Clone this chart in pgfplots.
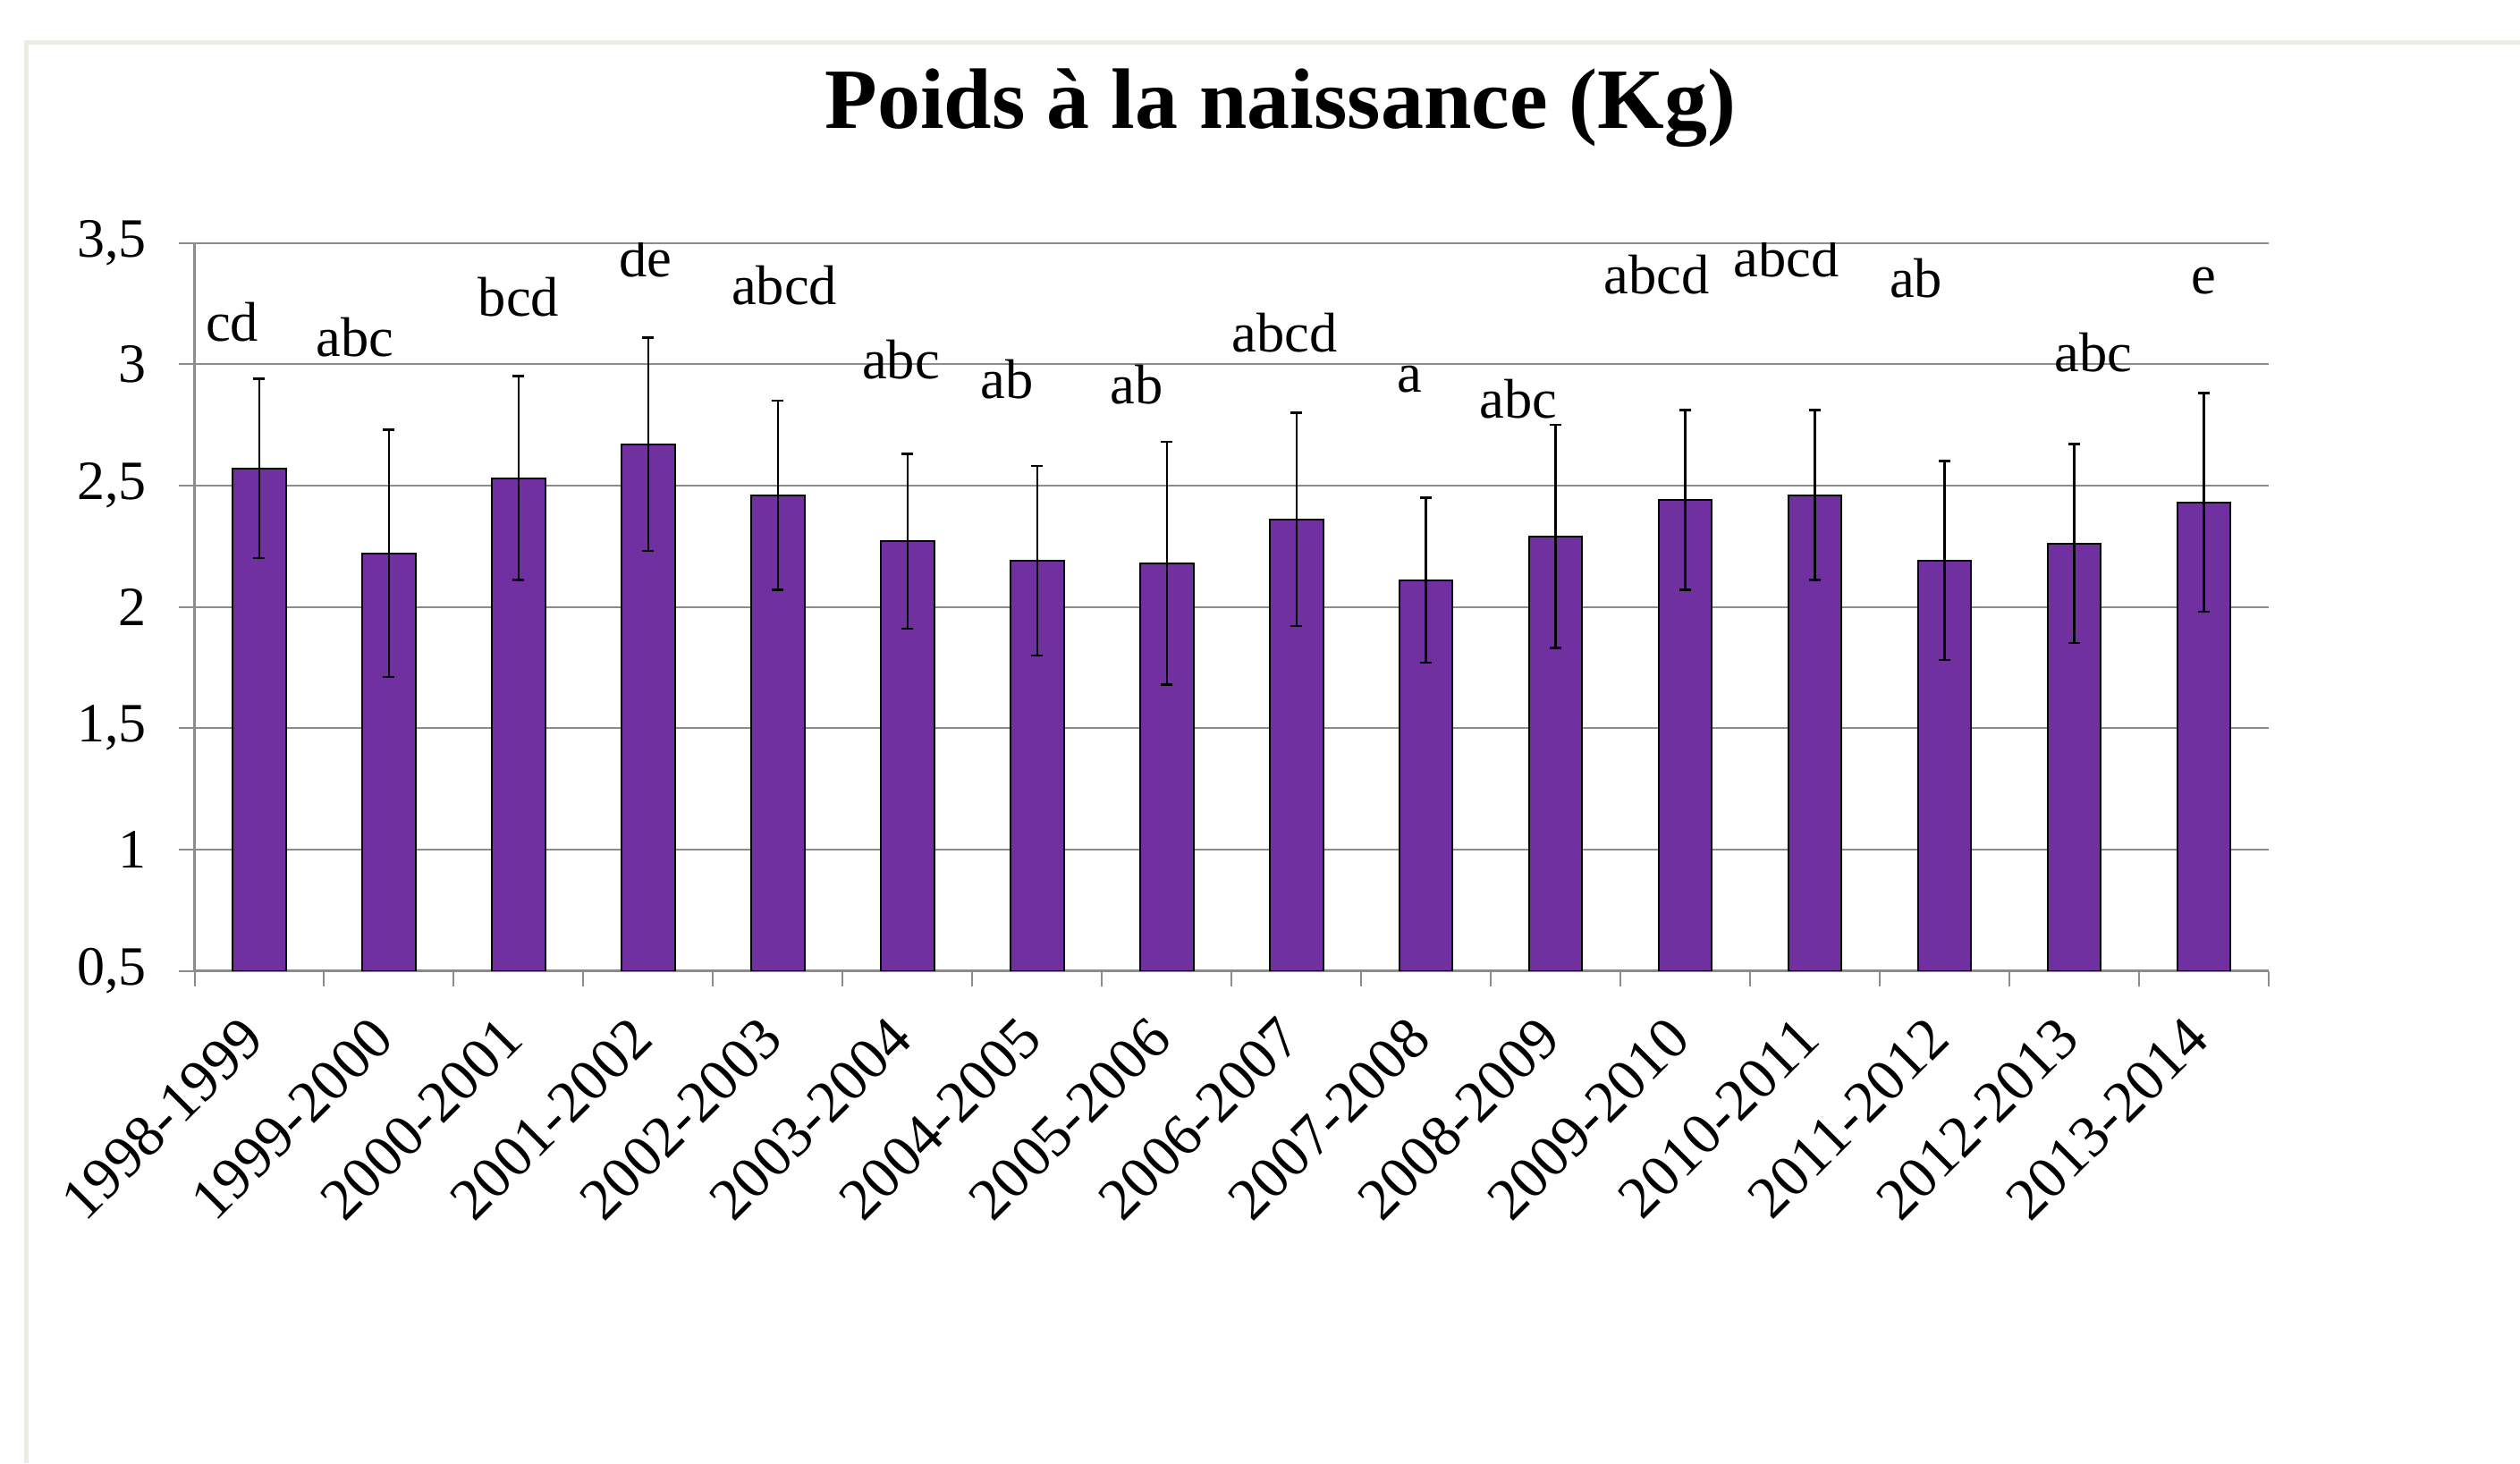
\documentclass[border=0pt]{standalone}
\usepackage{pgfplots}
\pgfplotsset{compat=1.18}
\usepackage{pgfplotstable}
\usepackage{fontspec}
\setmainfont{Liberation Serif}
\definecolor{barpurple}{HTML}{7030A0}
\definecolor{gridgray}{HTML}{8C8C8C}
\definecolor{framebeige}{HTML}{EEEBE3}

\pgfplotstableread{
x y e
0 2.57 0.37
1 2.22 0.51
2 2.53 0.42
3 2.67 0.44
4 2.46 0.39
5 2.27 0.36
6 2.19 0.39
7 2.18 0.50
8 2.36 0.44
9 2.11 0.34
10 2.29 0.46
11 2.44 0.37
12 2.46 0.35
13 2.19 0.41
14 2.26 0.41
15 2.43 0.45
}\datatable

\begin{document}
\begin{tikzpicture}
\path[use as bounding box] (0,0) rectangle (563.6pt,327.2pt);
\fill[white] (0,0) rectangle (563.6pt,327.2pt);
\draw[framebeige, line width=1pt] (5.9pt,0) -- (5.9pt,317.7pt) -- (563.6pt,317.7pt);
\node[font=\bfseries\fontsize{19.2}{23}\selectfont] at (286.4pt,303.1pt) {Poids à la naissance (Kg)};
\begin{axis}[
  at={(43.5pt,110.1pt)}, anchor=south west,
  scale only axis, width=463.9pt, height=162.8pt,
  xmin=-0.5, xmax=15.5, ymin=0.5, ymax=3.5,
  ytick={0.5,1,1.5,2,2.5,3,3.5},
  yticklabels={{0,5},1,{1,5},2,{2,5},3,{3,5}},
  xtick={0,...,15},
  xticklabels={1998-1999,1999-2000,2000-2001,2001-2002,2002-2003,2003-2004,2004-2005,2005-2006,2006-2007,2007-2008,2008-2009,2009-2010,2010-2011,2011-2012,2012-2013,2013-2014},
  /pgf/number format/assume math mode=true,
  axis x line*=bottom, axis y line*=left,
  axis line style={gridgray, line width=0.6pt},
  ymajorgrids, major grid style={gridgray, line width=0.4pt},
  tick align=outside, major tick length=3.6pt,
  ytick style={gridgray, line width=0.4pt},
  xtick style={draw=none},
  extra x ticks={-0.5,0.5,1.5,2.5,3.5,4.5,5.5,6.5,7.5,8.5,9.5,10.5,11.5,12.5,13.5,14.5,15.5},
  extra x tick labels={},
  extra x tick style={grid=none, xtick style={draw=gridgray, line width=0.4pt}, major tick length=3.4pt},
  yticklabel style={xshift=-3.6pt, font=\fontsize{12.4}{14}\selectfont},
  xticklabel style={yshift=-6.8pt, xshift=1pt, rotate=45, anchor=east, font=\fontsize{13.2}{15}\selectfont},
  clip=true,
]
\addplot[ybar, bar width=11.9pt, fill=barpurple, draw=black, line width=0.4pt,
  error bars/.cd, y dir=both, y explicit,
  error bar style={black, line width=0.5pt},
  error mark options={rotate=90, mark size=1.3pt, black, line width=0.5pt}]
  table[x=x, y=y, y error=e] {\datatable};
\begin{scope}[every node/.style={anchor=base, font=\fontsize{12.5}{15}\selectfont}]
\node at (axis cs:-0.21,3.094) {cd};
\node at (axis cs:0.74,3.031) {abc};
\node at (axis cs:2.00,3.196) {bcd};
\node at (axis cs:2.98,3.361) {de};
\node at (axis cs:4.05,3.246) {abcd};
\node at (axis cs:4.95,2.938) {abc};
\node at (axis cs:5.77,2.858) {ab};
\node at (axis cs:6.77,2.836) {ab};
\node at (axis cs:7.91,3.052) {abcd};
\node at (axis cs:8.87,2.883) {a};
\node at (axis cs:9.71,2.777) {abc};
\node at (axis cs:10.78,3.289) {abcd};
\node at (axis cs:11.78,3.361) {abcd};
\node at (axis cs:12.78,3.276) {ab};
\node at (axis cs:14.15,2.968) {abc};
\node at (axis cs:15.00,3.289) {e};
\end{scope}
\end{axis}
\end{tikzpicture}
\end{document}
